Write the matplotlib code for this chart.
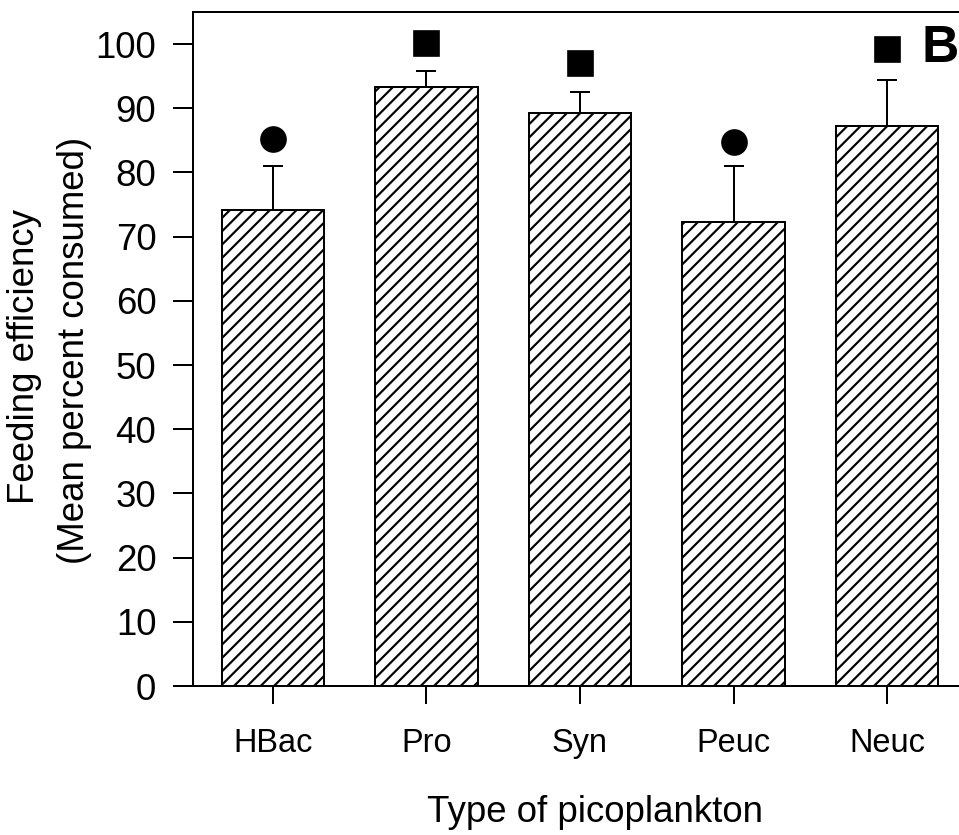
import matplotlib
matplotlib.use("Agg")
import matplotlib.pyplot as plt
import numpy as np

categories = ["HBac", "Pro", "Syn", "Peuc", "Neuc"]
means = [74.1, 93.3, 89.3, 72.3, 87.2]
err_upper = [6.9, 2.5, 3.2, 8.7, 7.2]
sig_values = [85.2, 100.2, 97.0, 84.8, 99.2]
sig_markers = ["o", "s", "s", "o", "s"]
yticks = [0, 10, 20, 30, 40, 50, 60, 70, 80, 90, 100]

DPI = 120
plt.rcParams["font.family"] = ["Liberation Sans", "DejaVu Sans"]
plt.rcParams["hatch.linewidth"] = 1.3
plt.rcParams["hatch.color"] = "black"

fig = plt.figure(figsize=(959 / DPI, 835 / DPI), dpi=DPI)
ax = fig.add_axes([193 / 959, 149 / 835, 774 / 959, 674 / 835])

x = np.arange(len(categories))
ax.bar(x, means, width=0.665, color="white", edgecolor="black",
       linewidth=1.2, hatch="///", zorder=2)
ax.errorbar(x, means, yerr=[np.zeros(len(means)), err_upper], fmt="none",
            ecolor="black", elinewidth=1.2, capsize=6, capthick=1.2, zorder=1)
for xi, v, m in zip(x, sig_values, sig_markers):
    ax.plot(xi, v, marker=m, markersize=15, color="black", linestyle="none",
            zorder=3)

ax.set_xlim(-0.521, 4.521)
ax.set_ylim(0, 105)
ax.set_yticks(yticks)
ax.set_xticks(x)
ax.set_xticklabels(categories)

for s in ax.spines.values():
    s.set_linewidth(1.2)

ax.tick_params(axis="y", direction="out", length=12, width=1.2, pad=10,
               labelsize=22)
ax.tick_params(axis="x", direction="out", length=11, width=1.2, pad=14,
               labelsize=19.5)

ax.text(0.519, (686 - 822) / 674, "Type of picoplankton", transform=ax.transAxes,
        ha="center", va="baseline", fontsize=22)

fig.text(34 / 959, 1 - 357 / 835, "Feeding efficiency", rotation=90,
         rotation_mode="anchor", ha="center", va="baseline", fontsize=22)
fig.text(84 / 959, 1 - 350 / 835, "(Mean percent consumed)", rotation=90,
         rotation_mode="anchor", ha="center", va="baseline", fontsize=22)

fig.text(940 / 959, 1 - 48 / 835, "B", ha="center", va="center",
         fontsize=31, fontweight="bold")

fig.savefig("out.png", dpi=DPI)
